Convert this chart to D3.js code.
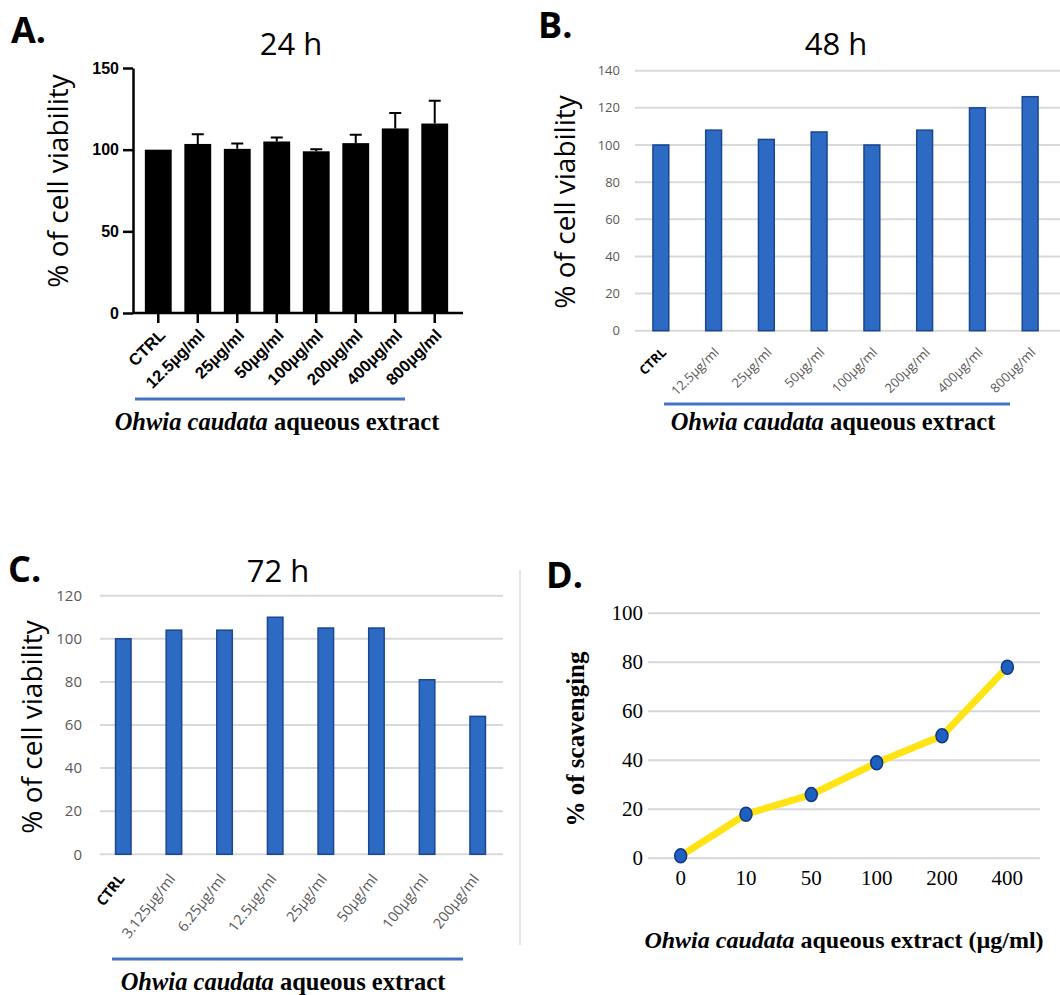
<!DOCTYPE html>
<html>
<head>
<meta charset="utf-8">
<script src="https://cdn.jsdelivr.net/npm/d3@7"></script>
<style>
  body { margin: 0; background: #fff; }
  svg { display: block; }
</style>
</head>
<body>
<svg id="fig" width="1060" height="995"></svg>
<script>
// A: 24 h viability (mean, error above mean)
const catsA = ["CTRL", "12.5µg/ml", "25µg/ml", "50µg/ml", "100µg/ml", "200µg/ml", "400µg/ml", "800µg/ml"];
const valsA = [100, 103.5, 100.5, 105, 99, 104, 113, 116];
const errA = [0, 6, 3.2, 2.5, 1.2, 5.2, 9.4, 14];
const ticksA = [0, 50, 100, 150];

// B: 48 h viability
const catsB = ["CTRL", "12.5µg/ml", "25µg/ml", "50µg/ml", "100µg/ml", "200µg/ml", "400µg/ml", "800µg/ml"];
const valsB = [100, 108, 103, 107, 100, 108, 120, 126];
const ticksB = [0, 20, 40, 60, 80, 100, 120, 140];

// C: 72 h viability
const catsC = ["CTRL", "3.125µg/ml", "6.25µg/ml", "12.5µg/ml", "25µg/ml", "50µg/ml", "100µg/ml", "200µg/ml"];
const valsC = [100, 104, 104, 110, 105, 105, 81, 64];
const ticksC = [0, 20, 40, 60, 80, 100, 120];

// D: scavenging
const dosesD = ["0", "10", "50", "100", "200", "400"];
const valsD = [1, 18, 26, 39, 50, 78];
const ticksD = [0, 20, 40, 60, 80, 100];

const sans = "'Open Sans', 'Noto Sans', sans-serif";
const arial = "'Liberation Sans', Arial, sans-serif";
const serif = "'Liberation Serif', 'Times New Roman', serif";
const lineBlue = "#4472c4";
const barBlue = "#2c6ac4";
const barEdge = "#1b4690";

const svg = d3.select("#fig");
svg.append("rect").attr("width", 1060).attr("height", 995).attr("fill", "#fff");

function panelLetter(text, x, y) {
  svg.append("text")
    .text(text)
    .attr("x", x)
    .attr("y", y)
    .attr("fill", "#000")
    .style("font-family", sans)
    .style("font-weight", 700)
    .style("font-size", "36px");
}

function title(text, x, y) {
  svg.append("text")
    .text(text)
    .attr("x", x)
    .attr("y", y)
    .attr("text-anchor", "middle")
    .style("font-family", sans)
    .style("font-size", "31px");
}

function yTitle(text, x, y, font, size, weight) {
  svg.append("text")
    .text(text)
    .attr("transform", `translate(${x},${y}) rotate(-90)`)
    .attr("text-anchor", "middle")
    .style("font-family", font)
    .style("font-weight", weight)
    .style("font-size", size);
}

function extractTitle(x, y, suffix, size) {
  const t = svg.append("text")
    .attr("x", x)
    .attr("y", y)
    .attr("text-anchor", "middle")
    .style("font-family", serif)
    .style("font-weight", 700)
    .style("font-size", size);
  t.append("tspan").style("font-style", "italic").text("Ohwia caudata");
  t.append("tspan").text(" aqueous extract" + suffix);
}

function blueRule(x1, x2, y) {
  svg.append("line")
    .attr("x1", x1).attr("x2", x2)
    .attr("y1", y).attr("y2", y)
    .attr("stroke", lineBlue)
    .attr("stroke-width", 3);
}

// ---------- A ----------
panelLetter("A.", 11, 43);
title("24 h", 291, 55);

const yA = d3.scaleLinear().domain([0, 150]).range([313, 68]);
const xA = d3.scaleBand().domain(catsA).range([133, 460]).paddingInner(0.32).paddingOuter(0.3);

const gA = svg.append("g");

gA.selectAll(".barA")
  .data(catsA)
  .join("rect")
  .attr("class", "barA")
  .attr("x", d => xA(d))
  .attr("width", xA.bandwidth())
  .attr("y", (d, i) => yA(valsA[i]))
  .attr("height", (d, i) => yA(0) - yA(valsA[i]))
  .attr("fill", "#000");

const errs = catsA.map((c, i) => ({ c, v: valsA[i], e: errA[i] })).filter(d => d.e > 0);
gA.selectAll(".errA")
  .data(errs)
  .join("path")
  .attr("class", "errA")
  .attr("d", d => {
    const cx = xA(d.c) + xA.bandwidth() / 2;
    const top = yA(d.v + d.e);
    return `M${cx},${yA(d.v)}V${top}M${cx - 6},${top}H${cx + 6}`;
  })
  .attr("stroke", "#000")
  .attr("stroke-width", 2)
  .attr("fill", "none");

const axA = gA.append("g")
  .attr("transform", "translate(133,0)")
  .call(d3.axisLeft(yA).tickValues(ticksA).tickSize(10).tickSizeOuter(0).tickPadding(4));
axA.selectAll("path, line").attr("stroke", "#000").attr("stroke-width", 2.5);
axA.selectAll("text")
  .style("font-family", arial)
  .style("font-weight", 700)
  .style("font-size", "16px")
  .attr("fill", "#000");

const axAx = gA.append("g")
  .attr("transform", "translate(0,313)")
  .call(d3.axisBottom(xA).tickSize(10).tickSizeOuter(0).tickFormat(""));
axAx.select(".domain").attr("d", "M133,0H463");
axAx.selectAll("path, line").attr("stroke", "#000").attr("stroke-width", 2.5);

gA.selectAll(".labA")
  .data(catsA)
  .join("text")
  .attr("class", "labA")
  .text(d => d)
  .attr("transform", d => `translate(${xA(d) + xA.bandwidth() / 2 + 4},${332}) rotate(-45)`)
  .attr("text-anchor", "end")
  .attr("dy", "0.35em")
  .style("font-family", arial)
  .style("font-weight", 700)
  .style("font-size", "16.5px");

yTitle("% of cell viability", 68, 181, sans, "28px", 400);
blueRule(135, 405, 399);
extractTitle(277, 430, "", "24.5px");

// ---------- B ----------
panelLetter("B.", 538, 38);
title("48 h", 836, 55);

const yB = d3.scaleLinear().domain([0, 140]).range([330.7, 70.7]);
const xB = d3.scaleBand().domain(catsB).range([635, 1056]).paddingInner(0.7).paddingOuter(0.34);
const gB = svg.append("g");

gB.selectAll(".gridB")
  .data(ticksB)
  .join("line")
  .attr("class", "gridB")
  .attr("x1", 635).attr("x2", 1060)
  .attr("y1", d => yB(d)).attr("y2", d => yB(d))
  .attr("stroke", "#d9d9d9")
  .attr("stroke-width", 2);

gB.selectAll(".tickB")
  .data(ticksB)
  .join("text")
  .attr("class", "tickB")
  .text(d => d)
  .attr("x", 620)
  .attr("y", d => yB(d))
  .attr("dy", "0.35em")
  .attr("text-anchor", "end")
  .attr("fill", "#595959")
  .style("font-family", sans)
  .style("font-size", "13px");

gB.selectAll(".barB")
  .data(catsB)
  .join("rect")
  .attr("class", "barB")
  .attr("x", d => xB(d))
  .attr("width", xB.bandwidth())
  .attr("y", (d, i) => yB(valsB[i]))
  .attr("height", (d, i) => yB(0) - yB(valsB[i]))
  .attr("fill", barBlue)
  .attr("stroke", barEdge)
  .attr("stroke-width", 1.5);

gB.selectAll(".labB")
  .data(catsB)
  .join("text")
  .attr("class", "labB")
  .text(d => d)
  .attr("transform", d => `translate(${xB(d) + xB.bandwidth() / 2 + 3},${350}) rotate(-45)`)
  .attr("text-anchor", "end")
  .attr("dy", "0.35em")
  .attr("fill", d => d === "CTRL" ? "#000" : "#595959")
  .style("font-family", sans)
  .style("font-weight", d => d === "CTRL" ? 700 : 400)
  .style("font-size", "13px");

yTitle("% of cell viability", 575, 202, sans, "28px", 400);
blueRule(664, 1010, 404);
extractTitle(833, 430, "", "24.5px");

// ---------- C ----------
panelLetter("C.", 8, 582);
title("72 h", 278, 582);

const yC = d3.scaleLinear().domain([0, 120]).range([854.3, 595.7]);
const xC = d3.scaleBand().domain(catsC).range([100, 501]).paddingInner(0.694).paddingOuter(0.307);
const gC = svg.append("g");

gC.selectAll(".gridC")
  .data(ticksC)
  .join("line")
  .attr("class", "gridC")
  .attr("x1", 100).attr("x2", 503)
  .attr("y1", d => yC(d)).attr("y2", d => yC(d))
  .attr("stroke", "#d9d9d9")
  .attr("stroke-width", 2);

gC.selectAll(".tickC")
  .data(ticksC)
  .join("text")
  .attr("class", "tickC")
  .text(d => d)
  .attr("x", 82)
  .attr("y", d => yC(d))
  .attr("dy", "0.35em")
  .attr("text-anchor", "end")
  .attr("fill", "#595959")
  .style("font-family", sans)
  .style("font-size", "15px");

gC.selectAll(".barC")
  .data(catsC)
  .join("rect")
  .attr("class", "barC")
  .attr("x", d => xC(d))
  .attr("width", xC.bandwidth())
  .attr("y", (d, i) => yC(valsC[i]))
  .attr("height", (d, i) => yC(0) - yC(valsC[i]))
  .attr("fill", barBlue)
  .attr("stroke", barEdge)
  .attr("stroke-width", 1.5);

gC.selectAll(".labC")
  .data(catsC)
  .join("text")
  .attr("class", "labC")
  .text(d => d)
  .attr("transform", d => `translate(${xC(d) + xC.bandwidth() / 2 - 2},${876}) rotate(-52)`)
  .attr("text-anchor", "end")
  .attr("dy", "0.35em")
  .attr("fill", d => d === "CTRL" ? "#000" : "#595959")
  .style("font-family", sans)
  .style("font-weight", d => d === "CTRL" ? 700 : 400)
  .style("font-size", "14.5px");

yTitle("% of cell viability", 42, 727, sans, "28px", 400);
blueRule(112, 463, 959);
extractTitle(283, 990, "", "24.5px");

// separator between C and D
svg.append("line")
  .attr("x1", 520).attr("x2", 520)
  .attr("y1", 570).attr("y2", 945)
  .attr("stroke", "#cfcfcf")
  .attr("stroke-width", 1);

// ---------- D ----------
panelLetter("D.", 546, 588);

const yD = d3.scaleLinear().domain([0, 100]).range([858.3, 613.3]);
const xD = d3.scalePoint().domain(dosesD).range([648, 1040]).padding(0.5);
const gD = svg.append("g");

gD.selectAll(".gridD")
  .data(ticksD)
  .join("line")
  .attr("class", "gridD")
  .attr("x1", 648).attr("x2", 1040)
  .attr("y1", d => yD(d)).attr("y2", d => yD(d))
  .attr("stroke", "#d6d6de")
  .attr("stroke-width", 2);

gD.selectAll(".tickD")
  .data(ticksD)
  .join("text")
  .attr("class", "tickD")
  .text(d => d)
  .attr("x", 643)
  .attr("y", d => yD(d))
  .attr("dy", "0.33em")
  .attr("text-anchor", "end")
  .style("font-family", serif)
  .style("font-size", "21px");

gD.selectAll(".xtickD")
  .data(dosesD)
  .join("text")
  .attr("class", "xtickD")
  .text(d => d)
  .attr("x", d => xD(d))
  .attr("y", 885)
  .attr("text-anchor", "middle")
  .style("font-family", serif)
  .style("font-size", "21px");

const lineD = d3.line()
  .x((d, i) => xD(dosesD[i]))
  .y(d => yD(d));

gD.append("path")
  .datum(valsD)
  .attr("d", lineD)
  .attr("fill", "none")
  .attr("stroke", "#ffe313")
  .attr("stroke-width", 7)
  .attr("stroke-linecap", "round")
  .attr("stroke-linejoin", "round");

gD.selectAll(".ptD")
  .data(valsD)
  .join("ellipse")
  .attr("class", "ptD")
  .attr("cx", (d, i) => xD(dosesD[i]))
  .attr("cy", d => yD(d))
  .attr("rx", 6)
  .attr("ry", 7)
  .attr("fill", "#1f5fbf")
  .attr("stroke", "#0d3a80")
  .attr("stroke-width", 1.5);

yTitle("% of scavenging", 584, 739, serif, "25px", 700);
extractTitle(844, 948, " (µg/ml)", "24px");
</script>
</body>
</html>
